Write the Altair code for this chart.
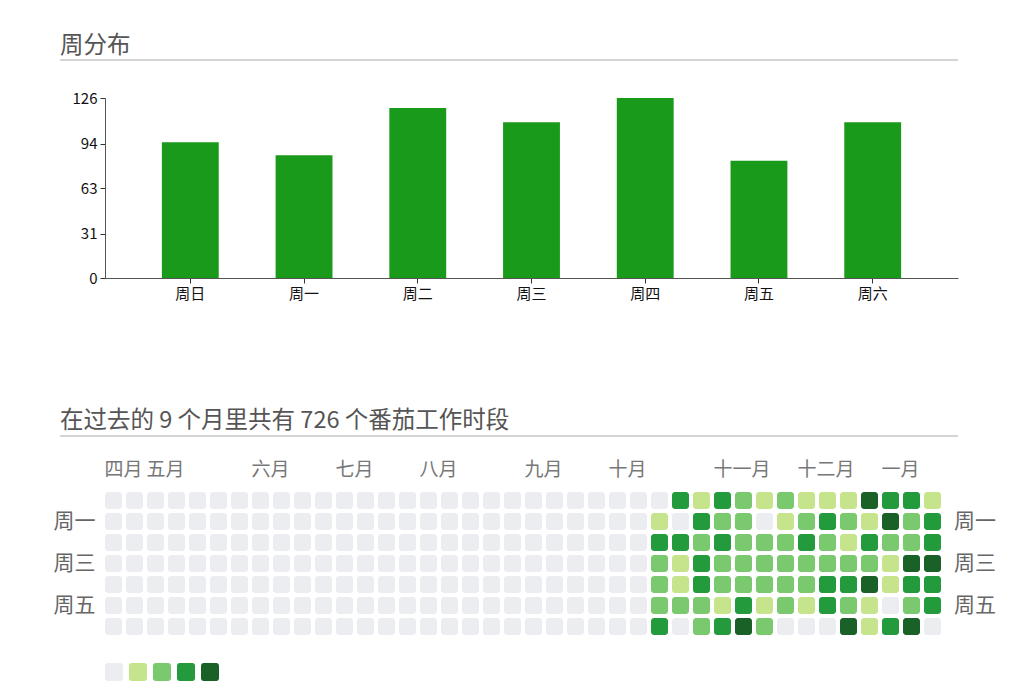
import altair as alt
import pandas as pd

FONT = "Noto Sans CJK SC"

# ---------------- data ----------------
days = ["周日", "周一", "周二", "周三", "周四", "周五", "周六"]
counts = [95, 86, 119, 109, 126, 82, 109]
y_ticks = [0, 31, 63, 94, 126]

month_names = ["四月", "五月", "六月", "七月", "八月", "九月", "十月", "十一月", "十二月", "一月"]
month_start_week = [0, 2, 7, 11, 15, 20, 24, 29, 33, 37]
n_weeks = 40
first_active_week = 26
# activity level (0-4) per weekday row (Sun..Sat) for weeks 26..39
levels_active = [
    [0, 3, 1, 3, 2, 1, 2, 1, 1, 1, 4, 3, 3, 1],  # 周日
    [1, 0, 3, 2, 2, 0, 1, 2, 3, 2, 1, 4, 2, 3],  # 周一
    [3, 3, 2, 3, 2, 2, 2, 3, 2, 1, 3, 2, 2, 3],  # 周二
    [2, 1, 3, 2, 2, 2, 2, 2, 2, 2, 2, 1, 4, 4],  # 周三
    [2, 1, 3, 2, 2, 2, 2, 2, 3, 3, 4, 1, 3, 3],  # 周四
    [2, 2, 2, 1, 3, 1, 2, 1, 3, 2, 1, 0, 2, 3],  # 周五
    [3, 0, 2, 3, 4, 2, 0, 0, 0, 4, 1, 3, 4, 0],  # 周六
]
level_domain = [0, 1, 2, 3, 4]
level_colors = ["#ebedf0", "#c6e48b", "#7bc96f", "#239a3b", "#196127"]
side_label_days = [1, 3, 5]

title1 = "周分布"
title2 = "在过去的 9 个月里共有 726 个番茄工作时段"

# ---------------- tables ----------------
bar_df = pd.DataFrame({"day": days, "count": counts})

rows = []
for d in range(7):
    for w in range(n_weeks):
        lv = 0
        if w >= first_active_week:
            lv = levels_active[d][w - first_active_week]
        rows.append({"week": w, "day": d, "level": lv})
heat_df = pd.DataFrame(rows)
side_df = pd.DataFrame({"day": side_label_days, "name": [days[i] for i in side_label_days]})
one = pd.DataFrame({"t": [0]})

# ---------------- chart 1: bars ----------------
W1, H1 = 853, 180
bars = alt.Chart(bar_df).mark_bar(color="#1a9a1a").encode(
    x=alt.X("day:N", sort=days, title=None,
            scale=alt.Scale(paddingInner=0.5, paddingOuter=0.5),
            axis=alt.Axis(labelAngle=0, labelFontSize=15, labelColor="#111", labelFont=FONT,
                          domainColor="#555", tickColor="#333", tickSize=5, labelPadding=3)),
    y=alt.Y("count:Q", title=None,
            scale=alt.Scale(domain=[0, 126], nice=False),
            axis=alt.Axis(values=y_ticks, grid=False, labelFontSize=15, labelColor="#111",
                          labelFont=FONT, domainColor="#555", tickColor="#333", tickSize=5,
                          labelPadding=3)),
)
t1 = alt.Chart(one).mark_text(align="left", baseline="alphabetic", fontSize=23.5, font=FONT,
                             color="#555").encode(
    x=alt.value(-45), y=alt.value(-45), text=alt.value(title1))
u1 = alt.Chart(one).mark_rule(color="#aaa", strokeWidth=1).encode(
    x=alt.value(-45), x2=alt.value(W1), y=alt.value(-38))
chart1 = alt.layer(bars, t1, u1).properties(width=W1, height=H1)

# ---------------- chart 2: heatmap ----------------
W2, H2 = 836, 143
month_expr = "[" + ",".join("'%s'" % m for m in month_names) + "][indexof([" + \
    ",".join(str(v) for v in month_start_week) + "], datum.value)]"
day_expr = "[" + ",".join("'%s'" % d for d in days) + "][datum.value]"

xenc = alt.X("week:O", title=None,
             scale=alt.Scale(domain=list(range(n_weeks)), paddingInner=4 / 21, paddingOuter=0),
             axis=alt.Axis(orient="top", values=month_start_week, labelExpr=month_expr,
                           labelOffset=-9, labelAlign="left", ticks=False, domain=False,
                           labelFontSize=19, labelColor="#777", labelFont=FONT, labelPadding=13,
                           labelAngle=0))
yenc = alt.Y("day:O", title=None,
             scale=alt.Scale(domain=list(range(7)), paddingInner=4 / 21, paddingOuter=0),
             axis=alt.Axis(values=side_label_days, labelExpr=day_expr, ticks=False, domain=False,
                           labelFontSize=21, labelColor="#666", labelFont=FONT, labelPadding=10))

legend_path = ("M-0.7,-1 H0.7 A0.3,0.3 0 0 1 1,-0.7 V0.7 A0.3,0.3 0 0 1 0.7,1 H-0.7 "
               "A0.3,0.3 0 0 1 -1,0.7 V-0.7 A0.3,0.3 0 0 1 -0.7,-1 Z")
cells = alt.Chart(heat_df).mark_rect(cornerRadius=3).encode(
    x=xenc, y=yenc,
    color=alt.Color("level:O", scale=alt.Scale(domain=level_domain, range=level_colors),
                    legend=alt.Legend(orient="none", legendX=0, legendY=565, direction="horizontal",
                                      title=None, symbolType=legend_path, symbolSize=324,
                                      symbolStrokeWidth=0, symbolOpacity=1, labelExpr="''",
                                      labelOffset=0, columnPadding=6, padding=0)),
)
side = alt.Chart(side_df).mark_text(align="left", baseline="middle", fontSize=21, font=FONT,
                                     color="#666").encode(
    x=alt.value(849), y=alt.Y("day:O"), text="name:N")
t2 = alt.Chart(one).mark_text(align="left", baseline="alphabetic", fontSize=23.5, font=FONT,
                             color="#555").encode(
    x=alt.value(-45), y=alt.value(-64), text=alt.value(title2))
u2 = alt.Chart(one).mark_rule(color="#aaa", strokeWidth=1).encode(
    x=alt.value(-45), x2=alt.value(W1), y=alt.value(-56))
chart2 = alt.layer(cells, side, t2, u2).properties(width=W2, height=H2)

chart = alt.vconcat(chart1, chart2, spacing=108).properties(
    padding={"left": 45, "top": 26, "right": 5, "bottom": 5}
).configure(font=FONT).configure_view(strokeWidth=0, stroke="transparent")

chart.save("out.html", embed_options={"renderer": "svg", "actions": False})
